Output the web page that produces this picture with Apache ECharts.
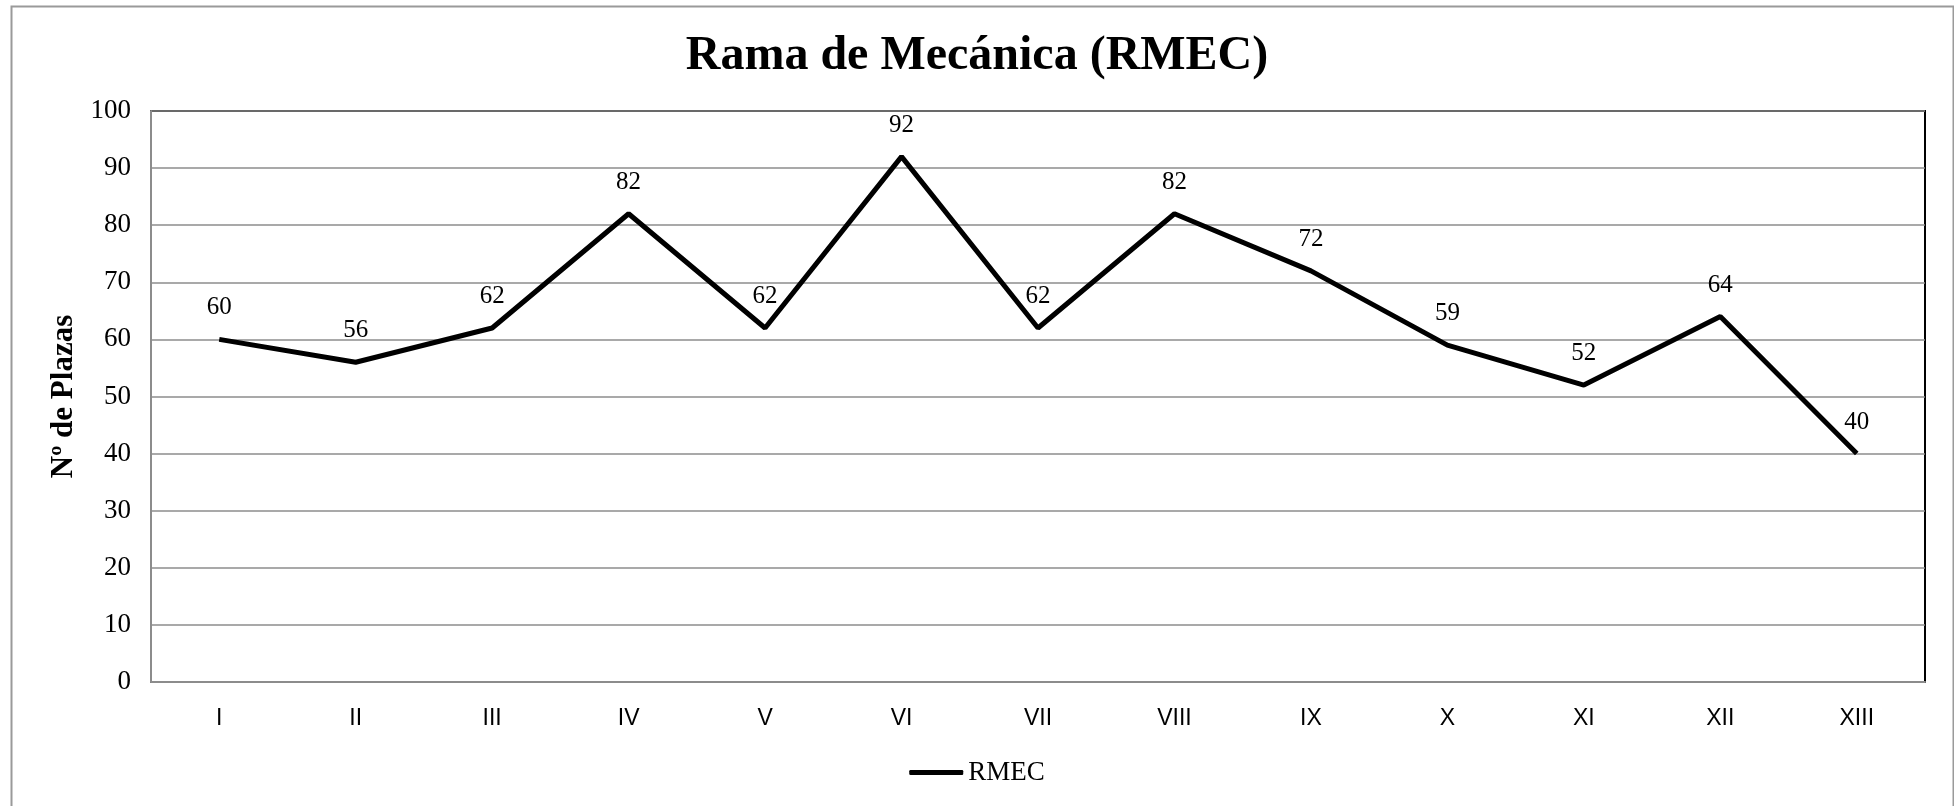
<!DOCTYPE html>
<html>
<head>
<meta charset="utf-8">
<script src="https://cdn.jsdelivr.net/npm/echarts@6/dist/echarts.min.js"></script>
<style>
  html, body { margin: 0; padding: 0; background: #fff; }
  #chart { width: 1954px; height: 806px; }
</style>
</head>
<body>
<div id="chart"></div>
<script>
// datos
const categorias = ['I', 'II', 'III', 'IV', 'V', 'VI', 'VII', 'VIII', 'IX', 'X', 'XI', 'XII', 'XIII'];
const plazasRMEC = [60, 56, 62, 82, 62, 92, 62, 82, 72, 59, 52, 64, 40];

const serif = '"Liberation Serif", "Times New Roman", serif';
const sans = '"Liberation Sans", Arial, sans-serif';

const chart = echarts.init(document.getElementById('chart'));
chart.setOption({
    animation: false,
    backgroundColor: '#fff',
    title: {
        text: 'Rama de Mecánica (RMEC)',
        left: 'center',
        top: 28,
        textStyle: { fontFamily: serif, fontWeight: 'bold', fontSize: 48, color: '#000' }
    },
    graphic: [{
        type: 'rect',
        left: 9, top: 4,
        shape: { width: 1942, height: 830 },
        style: { fill: 'none', stroke: '#9a9a9a', lineWidth: 2 },
        silent: true
    }],
    grid: {
        left: 151, right: 29, top: 111, bottom: 124,
        show: true,
        borderColor: '#000',
        borderWidth: 2
    },
    legend: {
        data: ['RMEC'],
        bottom: 15,
        left: 'center',
        icon: 'roundRect',
        itemWidth: 54,
        itemHeight: 5,
        itemGap: 4,
        textStyle: { fontFamily: serif, fontSize: 27, color: '#000' }
    },
    xAxis: {
        type: 'category',
        data: categorias,
        boundaryGap: true,
        axisLine: { lineStyle: { color: '#8c8c8c', width: 2 } },
        axisTick: { show: false },
        axisLabel: { fontFamily: sans, fontSize: 23, color: '#000', margin: 25 }
    },
    yAxis: {
        type: 'value',
        min: 0, max: 100, interval: 10,
        name: 'Nº de Plazas',
        nameLocation: 'middle',
        nameGap: 72,
        nameTextStyle: { fontFamily: serif, fontWeight: 'bold', fontSize: 31, color: '#000' },
        axisLine: { show: true, lineStyle: { color: '#8c8c8c', width: 2 } },
        axisTick: { show: false },
        axisLabel: { fontFamily: serif, fontSize: 27, color: '#000', margin: 20 },
        splitLine: { lineStyle: { color: '#8c8c8c', width: 1.5 } }
    },
    series: [{
        name: 'RMEC',
        type: 'line',
        data: plazasRMEC,
        symbol: 'circle',
        symbolSize: 0.1,
        showSymbol: true,
        lineStyle: { color: '#000', width: 5 },
        itemStyle: { color: '#000' },
        label: {
            show: true,
            position: 'top',
            distance: 19,
            fontFamily: serif,
            fontSize: 25,
            color: '#000'
        }
    }]
});
</script>
</body>
</html>
